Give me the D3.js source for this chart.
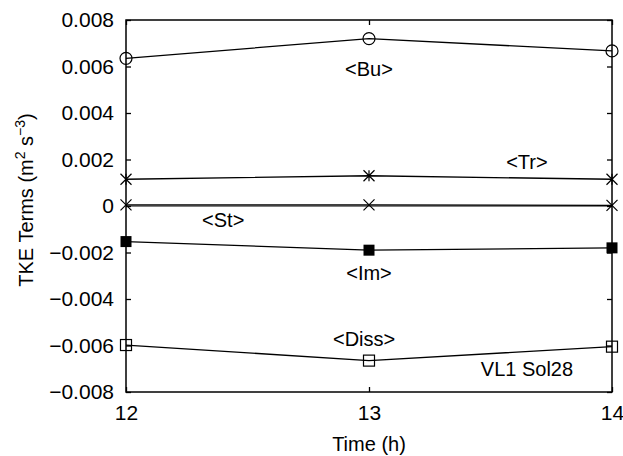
<!DOCTYPE html>
<html>
<head>
<meta charset="utf-8">
<script src="https://cdn.jsdelivr.net/npm/d3@7"></script>
<style>
  body { margin: 0; background: #fff; }
  svg text { font-family: "Liberation Sans", Arial, sans-serif; fill: #000; }
</style>
</head>
<body>
<div id="chart"></div>
<script>
// Chart data
const hours = [12, 13, 14];
const buValues = [0.00635, 0.0072, 0.00667];
const trValues = [0.00115, 0.0013, 0.00115];
const stValues = [0.00005, 0.00005, 0.00003];
const imValues = [-0.00153, -0.0019, -0.0018];
const dissValues = [-0.00598, -0.00665, -0.00605];
const yTicks = [-0.008, -0.006, -0.004, -0.002, 0, 0.002, 0.004, 0.006, 0.008];
const yTickLabels = ['\u22120.008', '\u22120.006', '\u22120.004', '\u22120.002', '0', '0.002', '0.004', '0.006', '0.008'];

const series = [
    {name: 'Bu', values: buValues, marker: 'circle', label: '<Bu>', lx: 13, ly: 0.0059},
    {name: 'Tr', values: trValues, marker: 'asterisk', label: '<Tr>', lx: 13.65, ly: 0.0019},
    {name: 'St', values: stValues, marker: 'cross', label: '<St>', lx: 12.4, ly: -0.0006},
    {name: 'Im', values: imValues, marker: 'filledSquare', label: '<Im>', lx: 13, ly: -0.0029},
    {name: 'Diss', values: dissValues, marker: 'openSquare', label: '<Diss>', lx: 12.98, ly: -0.0057}
];

const width = 623, height = 456;
const margin = {top: 20, right: 11, bottom: 64, left: 126};

const svg = d3.select('#chart').append('svg')
    .attr('width', width)
    .attr('height', height);

const x = d3.scaleLinear().domain([12, 14]).range([margin.left, width - margin.right]);
const y = d3.scaleLinear().domain([-0.008, 0.008]).range([height - margin.bottom, margin.top]);

const fontSize = 21;
const labelSize = 20;

// frame
svg.append('rect')
    .attr('x', x(12)).attr('y', y(0.008))
    .attr('width', x(14) - x(12)).attr('height', y(-0.008) - y(0.008))
    .attr('fill', 'none').attr('stroke', '#000').attr('stroke-width', 1.5);

// zero line
svg.append('line')
    .attr('x1', x(12)).attr('x2', x(14))
    .attr('y1', y(0)).attr('y2', y(0))
    .attr('stroke', '#000').attr('stroke-width', 1.2);

// y ticks, inward on both sides
const yAxisL = svg.append('g')
    .attr('transform', `translate(${x(12)},0)`)
    .call(d3.axisLeft(y).tickValues(yTicks).tickSizeInner(-5).tickSizeOuter(0).tickPadding(12)
        .tickFormat((d, i) => yTickLabels[i]));
const yAxisR = svg.append('g')
    .attr('transform', `translate(${x(14)},0)`)
    .call(d3.axisRight(y).tickValues(yTicks).tickSizeInner(-5).tickSizeOuter(0).tickFormat(''));

// x ticks, inward top and bottom
const xAxisB = svg.append('g')
    .attr('transform', `translate(0,${y(-0.008)})`)
    .call(d3.axisBottom(x).tickValues(hours).tickSizeInner(-5).tickSizeOuter(0).tickPadding(11)
        .tickFormat(d3.format('d')));
const xAxisT = svg.append('g')
    .attr('transform', `translate(0,${y(0.008)})`)
    .call(d3.axisTop(x).tickValues(hours).tickSizeInner(-5).tickSizeOuter(0).tickFormat(''));

[yAxisL, yAxisR, xAxisB, xAxisT].forEach(g => {
    g.select('.domain').remove();
    g.selectAll('line').attr('stroke', '#000').attr('stroke-width', 1.3);
    g.selectAll('text').style('font-size', fontSize + 'px')
        .style('font-family', '"Liberation Sans", Arial, sans-serif').attr('fill', '#000');
});
xAxisB.selectAll('text').attr('dy', '0.8em');

// lines
const line = d3.line().x((d, i) => x(hours[i])).y(d => y(d));
svg.append('g').selectAll('path')
    .data(series)
    .join('path')
    .attr('d', d => line(d.values))
    .attr('fill', 'none')
    .attr('stroke', '#000')
    .attr('stroke-width', 1.3);

// markers
const s = 5.5;
function drawMarker(g, type) {
    if (type === 'circle') {
        g.append('circle').attr('r', 6).attr('fill', 'none').attr('stroke', '#000').attr('stroke-width', 1.2);
    } else if (type === 'filledSquare') {
        g.append('rect').attr('x', -s).attr('y', -s).attr('width', 2 * s).attr('height', 2 * s).attr('fill', '#000');
    } else if (type === 'openSquare') {
        g.append('rect').attr('x', -s).attr('y', -s).attr('width', 2 * s).attr('height', 2 * s)
            .attr('fill', 'none').attr('stroke', '#000').attr('stroke-width', 1.2);
    } else {
        let p = `M${-s},${-s}L${s},${s}M${-s},${s}L${s},${-s}`;
        if (type === 'asterisk') p += `M0,${-s}L0,${s}`;
        g.append('path').attr('d', p).attr('stroke', '#000').attr('stroke-width', 1.2).attr('fill', 'none');
    }
}
series.forEach(sr => {
    sr.values.forEach((v, i) => {
        const g = svg.append('g').attr('transform', `translate(${x(hours[i])},${y(v)})`);
        drawMarker(g, sr.marker);
    });
});

// series labels
svg.append('g').selectAll('text')
    .data(series)
    .join('text')
    .attr('x', d => x(d.lx))
    .attr('y', d => y(d.ly))
    .attr('text-anchor', 'middle')
    .attr('dominant-baseline', 'central')
    .style('font-size', labelSize + 'px')
    .text(d => d.label);

svg.append('text')
    .attr('x', x(13.65))
    .attr('y', y(-0.0070))
    .attr('text-anchor', 'middle')
    .attr('dominant-baseline', 'central')
    .style('font-size', labelSize + 'px')
    .text('VL1 Sol28');

// axis titles
svg.append('text')
    .attr('x', (x(12) + x(14)) / 2)
    .attr('y', 451)
    .attr('text-anchor', 'middle')
    .style('font-size', labelSize + 'px')
    .text('Time (h)');

const yt = svg.append('text')
    .attr('transform', `translate(33,${(y(-0.008) + y(0.008)) / 2 - 6}) rotate(-90)`)
    .attr('text-anchor', 'middle')
    .style('font-size', labelSize + 'px');
yt.append('tspan').text('TKE Terms (m');
yt.append('tspan').attr('dy', -8).style('font-size', '14px').text('2');
yt.append('tspan').attr('dy', 8).text(' s');
yt.append('tspan').attr('dy', -8).style('font-size', '14px').text('\u22123');
yt.append('tspan').attr('dy', 8).text(')');
</script>
</body>
</html>
